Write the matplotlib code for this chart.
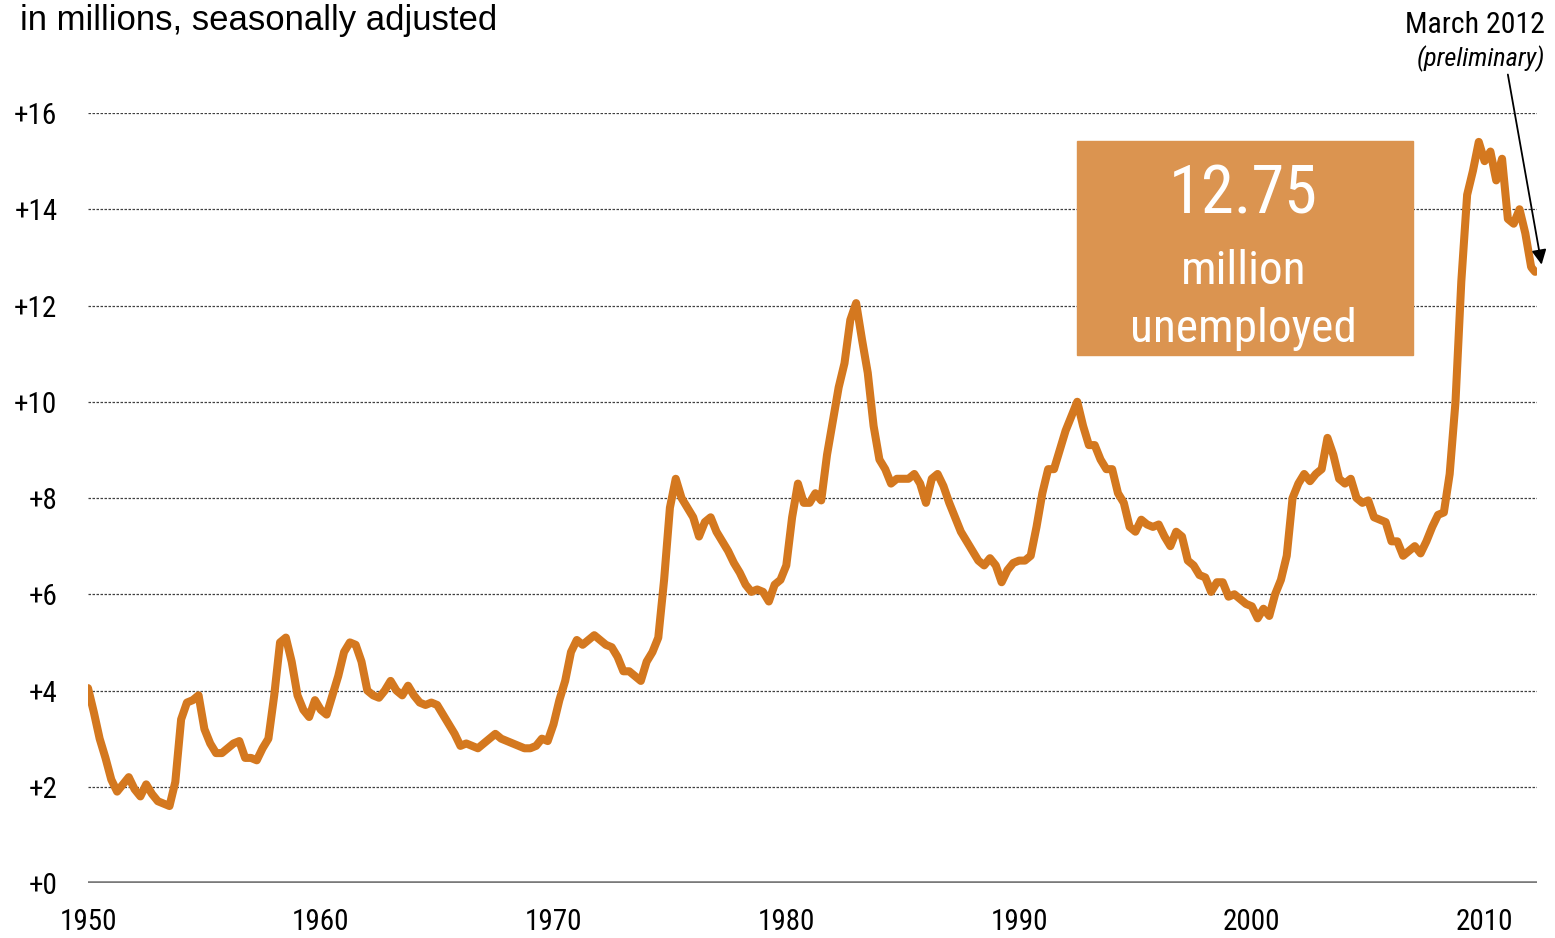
import numpy as np
import matplotlib
matplotlib.use("Agg")
import matplotlib.pyplot as plt
from matplotlib.patches import Rectangle

## unemployed persons, millions at quarterly steps (1950 Q1 .. 2011 Q4)
unemployed_q = [
    4.05, 3.55, 3.00, 2.60,   # 1950
    2.15, 1.90, 2.05, 2.20,   # 1951
    1.95, 1.80, 2.05, 1.85,   # 1952
    1.70, 1.65, 1.60, 2.10,   # 1953
    3.40, 3.75, 3.80, 3.90,   # 1954
    3.20, 2.90, 2.70, 2.70,   # 1955
    2.80, 2.90, 2.95, 2.60,   # 1956
    2.60, 2.55, 2.80, 3.00,   # 1957
    3.90, 5.00, 5.10, 4.60,   # 1958
    3.90, 3.60, 3.45, 3.80,   # 1959
    3.60, 3.50, 3.90, 4.30,   # 1960
    4.80, 5.00, 4.95, 4.60,   # 1961
    4.00, 3.90, 3.85, 4.00,   # 1962
    4.20, 4.00, 3.90, 4.10,   # 1963
    3.90, 3.75, 3.70, 3.75,   # 1964
    3.70, 3.50, 3.30, 3.10,   # 1965
    2.85, 2.90, 2.85, 2.80,   # 1966
    2.90, 3.00, 3.10, 3.00,   # 1967
    2.95, 2.90, 2.85, 2.80,   # 1968
    2.80, 2.85, 3.00, 2.95,   # 1969
    3.30, 3.80, 4.20, 4.80,   # 1970
    5.05, 4.95, 5.05, 5.15,   # 1971
    5.05, 4.95, 4.90, 4.70,   # 1972
    4.40, 4.40, 4.30, 4.20,   # 1973
    4.60, 4.80, 5.10, 6.30,   # 1974
    7.80, 8.40, 8.00, 7.80,   # 1975
    7.60, 7.20, 7.50, 7.60,   # 1976
    7.30, 7.10, 6.90, 6.65,   # 1977
    6.45, 6.20, 6.05, 6.10,   # 1978
    6.05, 5.85, 6.20, 6.30,   # 1979
    6.60, 7.60, 8.30, 7.90,   # 1980
    7.90, 8.10, 7.95, 8.90,   # 1981
    9.60, 10.30, 10.80, 11.70,  # 1982
    12.05, 11.30, 10.60, 9.50,  # 1983
    8.80, 8.60, 8.30, 8.40,   # 1984
    8.40, 8.40, 8.50, 8.30,   # 1985
    7.90, 8.40, 8.50, 8.25,   # 1986
    7.90, 7.60, 7.30, 7.10,   # 1987
    6.90, 6.70, 6.60, 6.75,   # 1988
    6.60, 6.25, 6.50, 6.65,   # 1989
    6.70, 6.70, 6.80, 7.40,   # 1990
    8.10, 8.60, 8.60, 9.00,   # 1991
    9.40, 9.70, 10.00, 9.50,  # 1992
    9.10, 9.10, 8.80, 8.60,   # 1993
    8.60, 8.10, 7.90, 7.40,   # 1994
    7.30, 7.55, 7.45, 7.40,   # 1995
    7.45, 7.20, 7.00, 7.30,   # 1996
    7.20, 6.70, 6.60, 6.40,   # 1997
    6.35, 6.05, 6.25, 6.25,   # 1998
    5.95, 6.00, 5.90, 5.80,   # 1999
    5.75, 5.50, 5.70, 5.55,   # 2000
    6.00, 6.30, 6.80, 8.00,   # 2001
    8.30, 8.50, 8.35, 8.50,   # 2002
    8.60, 9.25, 8.90, 8.40,   # 2003
    8.30, 8.40, 8.00, 7.90,   # 2004
    7.95, 7.60, 7.55, 7.50,   # 2005
    7.10, 7.10, 6.80, 6.90,   # 2006
    7.00, 6.85, 7.10, 7.40,   # 2007
    7.65, 7.70, 8.50, 10.00,  # 2008
    12.50, 14.30, 14.80, 15.40,  # 2009
    15.00, 15.20, 14.60, 15.05,  # 2010
    13.80, 13.70, 14.00, 13.50,  # 2011
]
## 2012: January .. March
months_2012 = [2012.0, 2012.08, 2012.17]
unemployed_2012 = [12.80, 12.75, 12.70]

years = np.concatenate([1950 + 0.25 * np.arange(len(unemployed_q)), months_2012])
values = np.concatenate([unemployed_q, unemployed_2012])

y_ticks = [0, 2, 4, 6, 8, 10, 12, 14, 16]
y_labels = ['+%d' % v for v in y_ticks]
x_ticks = [1950, 1960, 1970, 1980, 1990, 2000, 2010]

orange = '#D4781F'
box_color = '#DB9450'
narrow = ['Roboto Condensed', 'Liberation Sans', 'DejaVu Sans']

fig = plt.figure(figsize=(15.55, 9.38), dpi=100)
ax = fig.add_axes([0.0566, 0.0586, 0.9318, 0.8209])

## grid lines
for v in y_ticks[1:]:
    ax.axhline(v, color='#404040', lw=0.9, ls=(0, (2, 1.2)), zorder=1)
ax.axhline(0, color='#7a7a7a', lw=2.6, zorder=1)

ax.plot(years, values, color=orange, lw=5.8, solid_joinstyle='round',
        solid_capstyle='round', zorder=3)

ax.set_xlim(1950, 2012.25)
ax.set_ylim(0, 16)
for s in ax.spines.values():
    s.set_visible(False)
ax.set_yticks(y_ticks)
ax.set_yticklabels(y_labels, family=narrow, fontsize=21)
ax.set_xticks(x_ticks)
ax.set_xticklabels([str(x) for x in x_ticks], family=narrow, fontsize=21)
ax.tick_params(axis='x', length=0, pad=18)
ax.tick_params(axis='y', length=0, pad=22)

## big callout box
ax.add_patch(Rectangle((1992.48, 10.97), 14.44, 4.45, color=box_color,
                       zorder=4, clip_on=False))
ax.text(1999.65, 14.28, '12.75', color='white', family=narrow, fontsize=48,
        ha='center', va='center', zorder=5)
ax.text(1999.65, 12.72, 'million', color='white', family=narrow, fontsize=34,
        ha='center', va='center', zorder=5)
ax.text(1999.65, 11.52, 'unemployed', color='white', family=narrow, fontsize=34,
        ha='center', va='center', zorder=5)

## March 2012 note
fig.text(1545 / 1555, 1 - 33 / 938, 'March 2012', family=narrow, fontsize=21.5,
         ha='right', va='baseline')
fig.text(1545 / 1555, 1 - 66 / 938, '(preliminary)', family=narrow, fontsize=19,
         style='italic', ha='right', va='baseline')
ax.annotate('', xy=(2012.45, 12.85), xytext=(2011.0, 16.8),
            arrowprops=dict(arrowstyle='-|>', color='black', lw=1.3,
                            mutation_scale=22, shrinkA=0, shrinkB=0),
            annotation_clip=False, zorder=6)

fig.text(0.013, 1 - 30 / 938, 'in millions, seasonally adjusted', fontsize=25,
         family=['Liberation Sans', 'DejaVu Sans'], ha='left', va='baseline')

fig.savefig('out.png', dpi=100)
